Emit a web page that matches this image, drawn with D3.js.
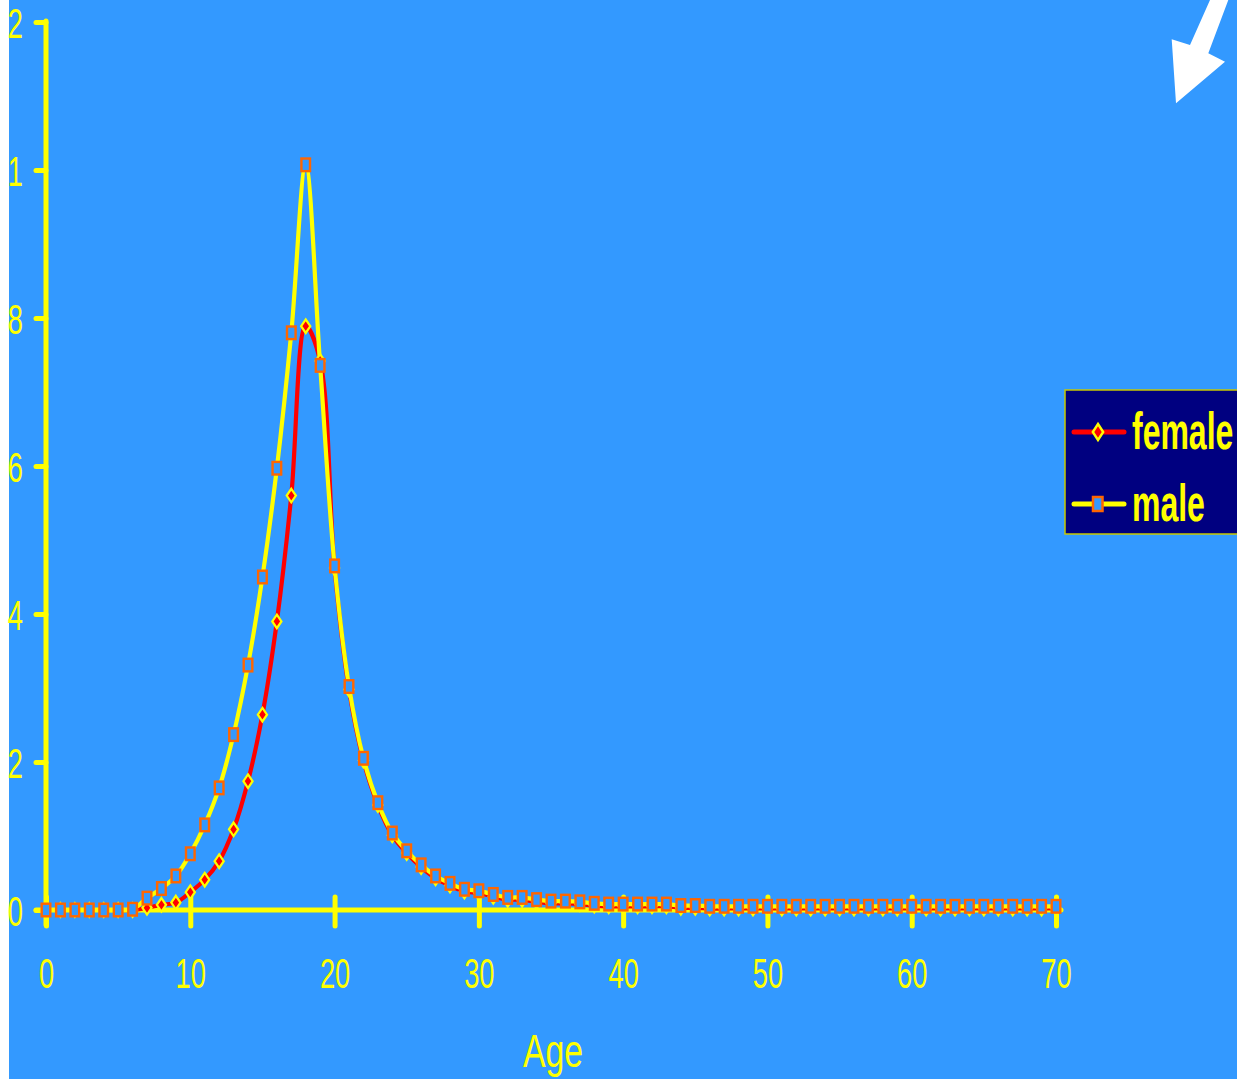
<!DOCTYPE html>
<html><head><meta charset="utf-8">
<script src="https://cdn.jsdelivr.net/npm/d3@7"></script>
<style>
html,body{margin:0;padding:0;background:#ffffff;overflow:hidden;}
svg{display:block;}
</style></head><body>
<svg id="c" width="1237" height="1079"></svg>
<script>
const ages = [0,1,2,3,4,5,6,7,8,9,10,11,12,13,14,15,16,17,18,19,20,21,22,23,24,25,26,27,28,29,30,31,32,33,34,35,36,37,38,39,40,41,42,43,44,45,46,47,48,49,50,51,52,53,54,55,56,57,58,59,60,61,62,63,64,65,66,67,68,69,70];
const male = [0,0,0,0,0,0,0.0001,0.0016,0.0029,0.0046,0.0076,0.0115,0.0165,0.0237,0.0331,0.045,0.0597,0.078,0.1007,0.0736,0.0465,0.0302,0.0205,0.0145,0.0104,0.008,0.0061,0.0046,0.0036,0.0028,0.0026,0.0021,0.0017,0.0017,0.0014,0.0012,0.0012,0.0011,0.0009,0.0008,0.0008,0.0008,0.0008,0.0008,0.0006,0.0006,0.0005,0.0005,0.0005,0.0005,0.0005,0.0005,0.0005,0.0005,0.0005,0.0005,0.0005,0.0005,0.0005,0.0005,0.0005,0.0005,0.0005,0.0005,0.0005,0.0005,0.0005,0.0005,0.0005,0.0005,0.0005];
const female = [0,0,0,0,0,0,0,0.0003,0.0007,0.001,0.0024,0.0041,0.0066,0.0109,0.0174,0.0264,0.039,0.056,0.0789,0.0742,0.0462,0.0298,0.0202,0.0142,0.0101,0.0077,0.0058,0.0043,0.0033,0.0025,0.0023,0.0018,0.0014,0.0014,0.0011,0.0009,0.0009,0.0008,0.0006,0.0005,0.0005,0.0005,0.0005,0.0005,0.0003,0.0003,0.0002,0.0002,0.0002,0.0002,0.0002,0.0002,0.0002,0.0002,0.0002,0.0002,0.0002,0.0002,0.0002,0.0002,0.0002,0.0002,0.0002,0.0002,0.0002,0.0002,0.0002,0.0002,0.0002,0.0002,0.0002];
const xTicks = [0,10,20,30,40,50,60,70];
const yTicks = [0,0.02,0.04,0.06,0.08,0.1,0.12];
// only the last digit of each y label is visible in the source (left edge is cropped)
const yTickLabels = ["0","2","4","6","8","1","2"];
const seriesNames = ["female","male"];
const xTitle = "Age";

const W = 1237, H = 1079;
const BLUE = "#3399FF", YEL = "#FFFF00", RED = "#FF0000", ORANGE = "#FF6600", NAVY = "#000080";
const FONT = "'Liberation Sans', Arial, sans-serif";
const svg = d3.select("#c");

svg.append("rect").attr("x", 9).attr("y", 0).attr("width", W - 9).attr("height", H).attr("fill", BLUE);

const x = d3.scaleLinear().domain([0, 70]).range([46, 1056]);
const y = d3.scaleLinear().domain([0, 0.12]).range([910, 22]);

// ---- axes ----
const xAxis = d3.axisBottom(x).tickValues(xTicks).tickSizeOuter(0).tickSize(16).tickFormat(d3.format("d"));
const gx = svg.append("g").attr("transform", `translate(0,${y(0)})`).call(xAxis);
gx.select(".domain").remove();
gx.attr("font-size", null).attr("font-family", null);
gx.selectAll(".tick line").attr("y1", -13).attr("y2", 16)
  .attr("stroke", YEL).attr("stroke-width", 5).attr("stroke-linecap", "round");
gx.selectAll(".tick text")
  .attr("y", null).attr("dy", null)
  .attr("transform", "translate(0,78) scale(0.65,1)")
  .attr("fill", YEL).attr("font-family", FONT).attr("font-size", 42);

const yAxis = d3.axisLeft(y).tickValues(yTicks).tickSizeOuter(0).tickSize(10)
  .tickFormat((d, i) => yTickLabels[i]);
const gy = svg.append("g").attr("transform", `translate(${x(0)},0)`).call(yAxis);
gy.select(".domain").remove();
gy.attr("font-size", null).attr("font-family", null);
gy.selectAll(".tick line").attr("stroke", YEL).attr("stroke-width", 5).attr("stroke-linecap", "round");
gy.selectAll(".tick text")
  .attr("x", null).attr("dy", "0.36em")
  .attr("transform", `translate(${23 - x(0)},0) scale(0.65,1)`)
  .attr("text-anchor", "end")
  .attr("fill", YEL).attr("font-family", FONT).attr("font-size", 42);

// axis lines
svg.append("line").attr("x1", x(0) - 10).attr("x2", x(70) + 5).attr("y1", y(0)).attr("y2", y(0))
  .attr("stroke", YEL).attr("stroke-width", 5).attr("stroke-linecap", "round");
svg.append("line").attr("x1", x(0)).attr("x2", x(0)).attr("y1", y(0.12) - 1).attr("y2", y(0) + 15)
  .attr("stroke", YEL).attr("stroke-width", 5).attr("stroke-linecap", "round");

// x title
svg.append("text").attr("transform", `translate(553,1067) scale(0.72,1)`)
  .attr("text-anchor", "middle").attr("fill", YEL).attr("font-family", FONT).attr("font-size", 47)
  .text(xTitle);

// ---- series ----
const line = d3.line().curve(d3.curveCatmullRom).x((d, i) => x(ages[i])).y(d => y(d));
svg.append("path").datum(female).attr("d", line).attr("fill", "none").attr("stroke", RED).attr("stroke-width", 4.2);
svg.append("path").datum(male).attr("d", line).attr("fill", "none").attr("stroke", YEL).attr("stroke-width", 4.2);

const diamond = (hw, hh) => `M0,${-hh}L${hw},0L0,${hh}L${-hw},0Z`;
svg.append("g").selectAll("path").data(female).join("path")
  .attr("transform", (d, i) => `translate(${x(ages[i])},${y(d)})`)
  .attr("d", diamond(4.6, 6.8)).attr("fill", RED).attr("stroke", YEL).attr("stroke-width", 2.2);
svg.append("g").selectAll("rect").data(male).join("rect")
  .attr("x", (d, i) => x(ages[i]) - 4.3).attr("y", d => y(d) - 6.3)
  .attr("width", 8.6).attr("height", 12.6)
  .attr("fill", BLUE).attr("stroke", ORANGE).attr("stroke-width", 2.4);

// ---- legend ----
const lg = svg.append("g");
lg.append("rect").attr("x", 1065).attr("y", 390).attr("width", 200).attr("height", 144)
  .attr("fill", NAVY).attr("stroke", "#C8C800").attr("stroke-width", 1.5);
const legY = [432, 504];
const legCol = [RED, YEL];
seriesNames.forEach((nm, i) => {
  lg.append("line").attr("x1", 1074).attr("x2", 1124).attr("y1", legY[i]).attr("y2", legY[i])
    .attr("stroke", legCol[i]).attr("stroke-width", 5).attr("stroke-linecap", "round");
  if (i === 0) {
    lg.append("path").attr("transform", `translate(1098,${legY[i]})`).attr("d", diamond(5.2, 8))
      .attr("fill", RED).attr("stroke", YEL).attr("stroke-width", 2.4);
  } else {
    lg.append("rect").attr("x", 1093).attr("y", legY[i] - 7).attr("width", 9.5).attr("height", 14)
      .attr("fill", BLUE).attr("stroke", ORANGE).attr("stroke-width", 2.5);
  }
  lg.append("text").attr("transform", `translate(1132,${legY[i] + 17}) scale(0.615,1)`)
    .attr("fill", YEL).attr("font-family", FONT).attr("font-weight", "bold").attr("font-size", 52)
    .text(nm);
});

// ---- arrow (top right) ----
svg.append("polygon")
  .attr("points", [[1210,0],[1190,45],[1171.7,39.3],[1176,103.3],[1225,61.7],[1208.3,53.3],[1228.3,0]].map(p => p.join(",")).join(" "))
  .attr("fill", "#FFFFFF");
</script>
</body></html>
